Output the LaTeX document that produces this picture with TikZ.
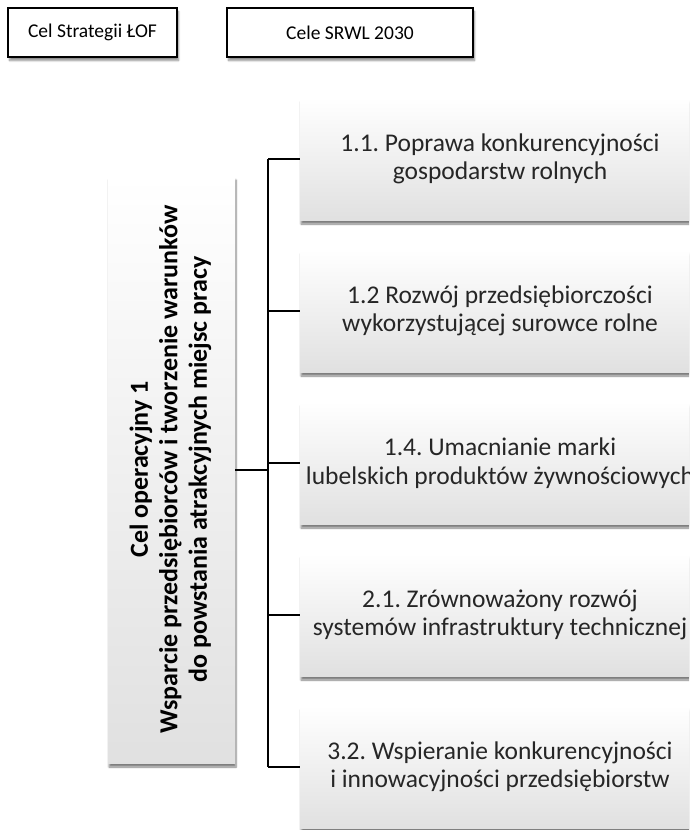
\documentclass[tikz,border=0pt]{standalone}
\usepackage{fontspec}
\setmainfont{Carlito}
\usetikzlibrary{shadows,shadows.blur}
\frenchspacing

\begin{document}
\begin{tikzpicture}[x=1pt,y=-1pt,
  headbox/.style={draw=black,line width=1.6pt,fill=white,inner sep=0pt,
    blur shadow={shadow xshift=1.5pt,shadow yshift=-3.5pt,shadow blur steps=6,shadow opacity=45},
    font=\fontsize{19.5}{23}\selectfont},
  goalbox/.style={draw=none,inner sep=0pt,top color=white,bottom color=black!12,
    minimum width=400pt,minimum height=122pt,align=center,text=black!85,
    blur shadow={shadow xshift=1pt,shadow yshift=-4pt,shadow blur steps=6,shadow opacity=50},
    font=\fontsize{25.5}{28.5}\selectfont},
  link/.style={line width=1.3pt}]

\useasboundingbox (0,0) rectangle (689,830);
\clip (0,0) rectangle (689,830);

\node[headbox,minimum width=169pt,minimum height=49pt] (lof) at (92.5,32.5) {Cel Strategii ŁOF};
\node[headbox,minimum width=246pt,minimum height=49pt] (srwl) at (350,32.5) {Cele SRWL 2030};

\node[goalbox,minimum width=127pt,minimum height=587pt,text=black] (celop) at (171.5,469.5)
  {\rotatebox{90}{\fontsize{26}{29.5}\selectfont\bfseries\begin{tabular}{@{}c@{}}Cel operacyjny 1\\
   Wsparcie przedsiębiorców i tworzenie warunków\\
   do powstania atrakcyjnych miejsc pracy\end{tabular}}};

\node[goalbox] (c11) at (500,159) {1.1. Poprawa konkurencyjności\\gospodarstw rolnych};
\node[goalbox] (c12) at (500,311) {1.2 Rozwój przedsiębiorczości\\wykorzystującej surowce rolne};
\node[goalbox] (c14) at (500,463) {1.4. Umacnianie marki\\lubelskich produktów żywnościowych};
\node[goalbox] (c21) at (500,615) {2.1. Zrównoważony rozwój\\systemów infrastruktury technicznej};
\node[goalbox] (c32) at (500,767) {3.2. Wspieranie konkurencyjności\\i innowacyjności przedsiębiorstw};

\coordinate (s1) at (268,159);
\coordinate (s5) at (268,767);
\coordinate (sm) at (268,470);

\draw[link] (s1) -- (s5);
\draw[link,line width=2.2pt] (celop.east |- sm) -- (sm);
\foreach \n in {c11,c12,c14,c21,c32}
  \draw[link] (s1 |- \n.west) -- (\n.west);

\end{tikzpicture}
\end{document}
